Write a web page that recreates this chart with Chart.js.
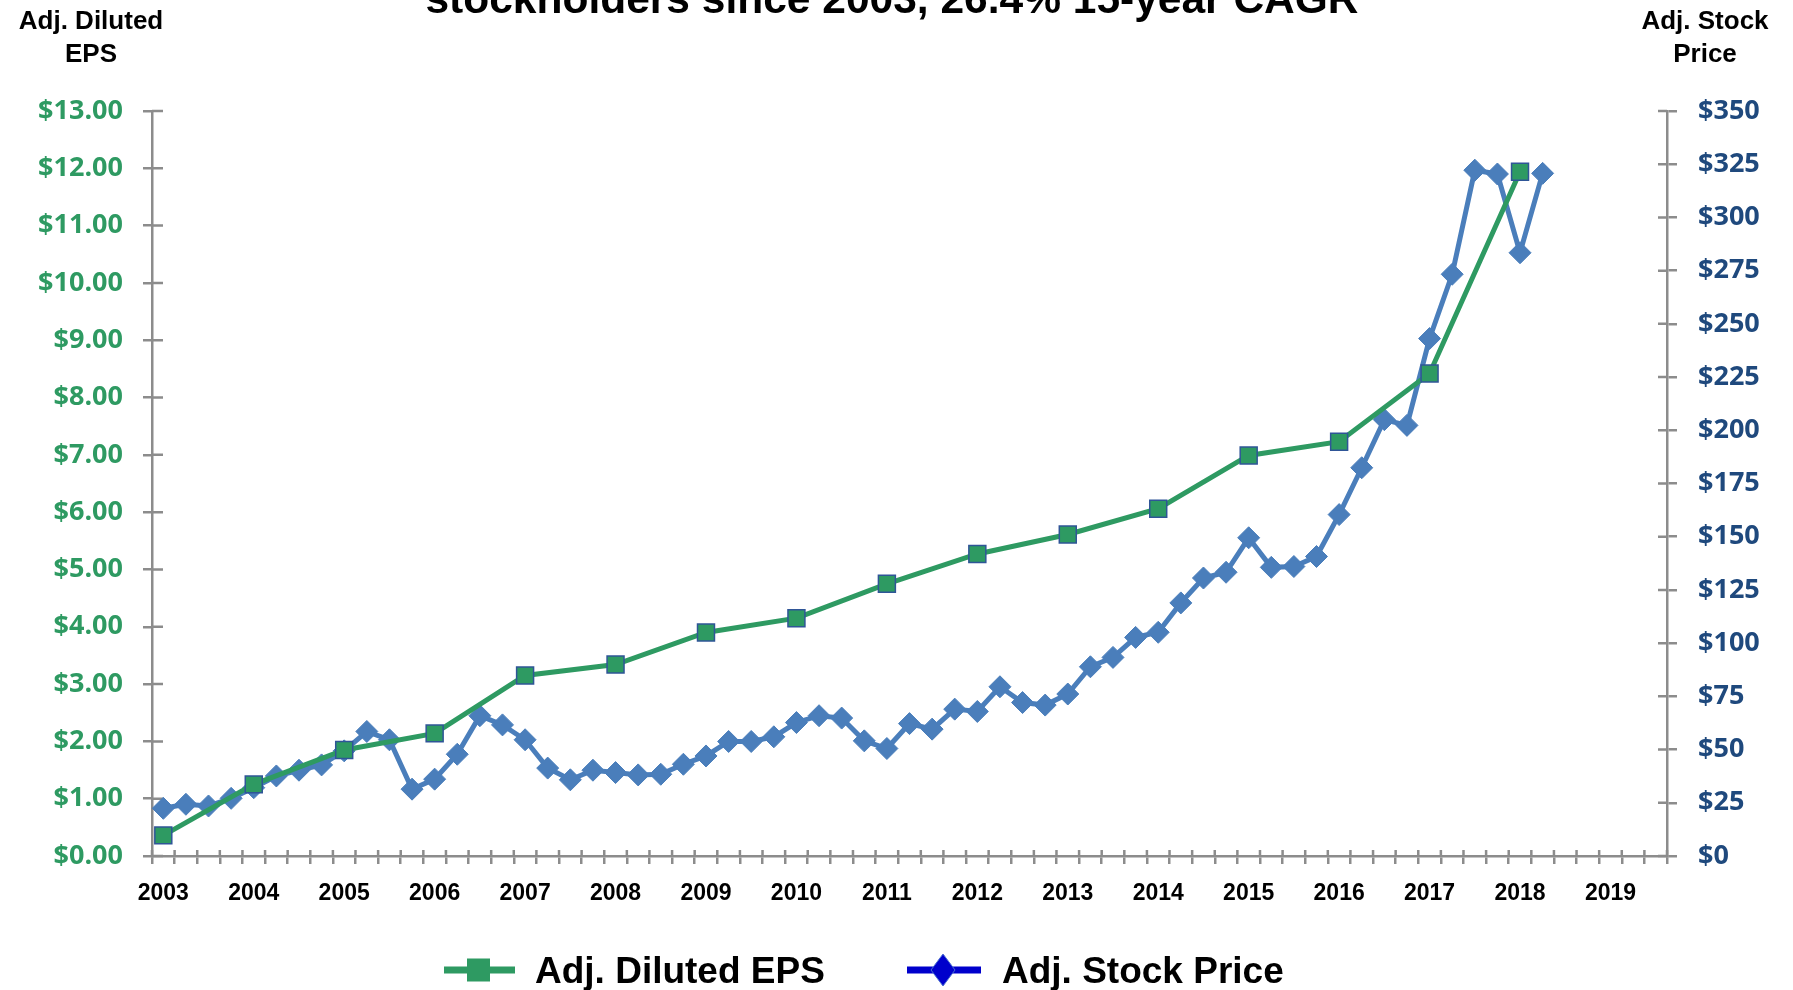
<!DOCTYPE html>
<html>
<head>
<meta charset="utf-8">
<script src="https://cdn.jsdelivr.net/npm/chart.js@4.4.1/dist/chart.umd.min.js"></script>
<style>
  html, body { margin: 0; padding: 0; background: #ffffff; }
  #wrap { width: 1793px; height: 990px; position: relative; }
</style>
</head>
<body>
<div id="wrap"><canvas id="c"></canvas></div>
<script>
// ---- Data ----
const years = ['2003','2004','2005','2006','2007','2008','2009','2010','2011','2012','2013','2014','2015','2016','2017','2018','2019'];
const quarterNames = ['Q1','Q2','Q3','Q4'];
const categoryCount = 67; // quarterly categories, 2003 Q1 .. 2019 Q3

// Adjusted diluted EPS, one value per year (2003..2018), placed at Q1 of each year
const epsValues = [0.36, 1.25, 1.85, 2.14, 3.15, 3.34, 3.90, 4.15, 4.75, 5.27, 5.61, 6.06, 6.99, 7.23, 8.42, 11.94];

// Adjusted stock price, quarterly from 2003 Q1
const priceValues = [22.4, 24.3, 23.5, 27.1, 32.1, 37.6, 40.3, 42.8, 49.4, 58.5,
                     54.6, 31.4, 36.1, 47.8, 65.9, 61.6, 54.6, 41.3, 35.8, 40.3,
                     39.2, 38.1, 38.4, 43.1, 47.0, 53.8, 53.8, 56.0, 62.7, 65.9,
                     64.8, 54.1, 50.5, 62.2, 59.6, 69.0, 67.9, 79.5, 72.1, 70.9,
                     76.1, 88.9, 93.3, 102.7, 105.1, 118.9, 130.6, 133.3, 149.5, 135.6,
                     136.0, 140.7, 160.4, 182.4, 205.0, 202.3, 243.1, 273.3, 322.2, 320.4,
                     283.4, 320.7];

const titleText = 'stockholders since 2003, 26.4% 15-year CAGR';
const leftAxisTitle = ['Adj. Diluted', 'EPS'];
const rightAxisTitle = ['Adj. Stock', 'Price'];
const legendNames = ['Adj. Diluted EPS', 'Adj. Stock Price'];

// ---- Build library tables ----
const categories = [];
for (let i = 0; i < categoryCount; i++) {
  categories.push(years[Math.floor(i / 4)] + ' ' + quarterNames[i % 4]);
}
const epsSeries = categories.map((c, i) => (i % 4 === 0 && epsValues[i / 4] !== undefined) ? epsValues[i / 4] : null);
const priceSeries = categories.map((c, i) => priceValues[i] !== undefined ? priceValues[i] : null);

// ---- Styles ----
const GREEN = '#2E9A62';
const GREEN_TXT = '#2E9A62';
const BLUE_LINE = '#4A7EBB';
const BLUE_TXT = '#1F497D';
const AXIS = '#8C8C8C';
const SANS = '"Liberation Sans", Arial, sans-serif';
const TICKFONT = '"Open Sans", "DejaVu Sans", sans-serif';

const decorPlugin = {
  id: 'decor',
  beforeDatasetsDraw(chart) {
    const ctx = chart.ctx;
    const x = chart.scales.x, y = chart.scales.y, y1 = chart.scales.y1;
    ctx.save();
    ctx.strokeStyle = AXIS;
    ctx.lineWidth = 2.5;
    ctx.beginPath();
    y.ticks.forEach((t, i) => {
      const py = y.getPixelForTick(i);
      ctx.moveTo(y.right, py); ctx.lineTo(y.right + 11, py);
    });
    y1.ticks.forEach((t, i) => {
      const py = y1.getPixelForTick(i);
      ctx.moveTo(y1.left - 9, py); ctx.lineTo(y1.left, py);
    });
    const step = x.getPixelForValue(1) - x.getPixelForValue(0);
    for (let i = 0; i <= categories.length; i++) {
      const px = x.getPixelForValue(i) - step / 2;
      ctx.moveTo(px, x.top - 6); ctx.lineTo(px, x.top);
    }
    ctx.stroke();
    ctx.restore();
  },
  afterDraw(chart) {
    const ctx = chart.ctx;
    ctx.save();
    // Title (cut at the top edge)
    ctx.fillStyle = '#000';
    ctx.font = 'bold 100px ' + SANS;
    const w100 = ctx.measureText(titleText).width;
    const tSize = 100 * 933 / w100;
    ctx.font = 'bold ' + tSize.toFixed(1) + 'px ' + SANS;
    ctx.textAlign = 'center';
    ctx.textBaseline = 'alphabetic';
    ctx.fillText(titleText, 892, 13);

    // Axis titles
    ctx.font = 'bold 26px ' + SANS;
    ctx.fillText(leftAxisTitle[0], 91, 29);
    ctx.fillText(leftAxisTitle[1], 91, 62);
    ctx.fillText(rightAxisTitle[0], 1705, 29);
    ctx.fillText(rightAxisTitle[1], 1705, 62);

    // Legend
    const ly = 970;
    ctx.lineWidth = 7;
    ctx.strokeStyle = GREEN;
    ctx.beginPath(); ctx.moveTo(444, ly); ctx.lineTo(515, ly); ctx.stroke();
    ctx.fillStyle = GREEN;
    ctx.fillRect(467, ly - 11.5, 23, 23);
    ctx.strokeStyle = '#0000CC';
    ctx.beginPath(); ctx.moveTo(907, ly); ctx.lineTo(981, ly); ctx.stroke();
    ctx.fillStyle = '#0000CC';
    ctx.beginPath();
    ctx.moveTo(943, ly - 16); ctx.lineTo(955, ly); ctx.lineTo(943, ly + 16); ctx.lineTo(931, ly);
    ctx.closePath(); ctx.fill();
    ctx.strokeStyle = '#4A6FD0'; ctx.lineWidth = 1; ctx.stroke();
    ctx.fillStyle = '#000';
    ctx.textAlign = 'left';
    ctx.font = 'bold 37px ' + SANS;
    ctx.fillText(legendNames[0], 535, 983);
    ctx.fillText(legendNames[1], 1002, 983);
    ctx.restore();
  }
};

function build() {
  new Chart(document.getElementById('c'), {
    type: 'line',
    data: {
      labels: categories,
      datasets: [
        {
          label: legendNames[0],
          data: epsSeries,
          yAxisID: 'y',
          spanGaps: true,
          borderColor: GREEN,
          borderWidth: 5,
          pointStyle: 'rect',
          pointRadius: 12,
          pointHoverRadius: 12,
          pointBackgroundColor: GREEN,
          pointBorderColor: '#2F5597',
          pointBorderWidth: 1.5,
          tension: 0
        },
        {
          label: legendNames[1],
          data: priceSeries,
          yAxisID: 'y1',
          spanGaps: false,
          borderColor: BLUE_LINE,
          borderWidth: 5,
          pointStyle: 'rectRot',
          pointRadius: 11,
          pointHoverRadius: 11,
          pointBackgroundColor: BLUE_LINE,
          pointBorderColor: BLUE_LINE,
          pointBorderWidth: 1,
          tension: 0
        }
      ]
    },
    options: {
      responsive: true,
      maintainAspectRatio: false,
      animation: false,
      events: [],
      layout: { padding: { top: 111, left: 0, right: 0, bottom: 0 } },
      plugins: { legend: { display: false }, title: { display: false }, tooltip: { enabled: false } },
      scales: {
        x: {
          type: 'category',
          offset: true,
          grid: { offset: true, drawOnChartArea: false, drawTicks: true, tickLength: 8, color: AXIS, lineWidth: 2.5 },
          border: { display: true, color: AXIS, width: 2.5 },
          ticks: {
            autoSkip: false, maxRotation: 0, minRotation: 0, padding: 16,
            color: '#000',
            font: { family: SANS, size: 23, weight: 'bold' },
            callback: (v, i) => (i % 4 === 0 ? years[i / 4] : '')
          },
          afterFit: (s) => { s.height = 134; }
        },
        y: {
          position: 'left',
          min: 0, max: 13,
          grid: { drawOnChartArea: false, drawTicks: true, tickLength: 9, color: AXIS, lineWidth: 2.5 },
          border: { display: true, color: AXIS, width: 2.5 },
          ticks: {
            stepSize: 1, padding: 20, color: GREEN_TXT,
            font: { family: TICKFONT, size: 27, weight: 'bold' },
            callback: (v) => '$' + Number(v).toFixed(2)
          },
          afterFit: (s) => { s.width = 152; }
        },
        y1: {
          position: 'right',
          min: 0, max: 350,
          grid: { drawOnChartArea: false, drawTicks: true, tickLength: 10, color: AXIS, lineWidth: 2.5 },
          border: { display: true, color: AXIS, width: 2.5 },
          ticks: {
            stepSize: 25, padding: 21, color: BLUE_TXT,
            font: { family: TICKFONT, size: 27, weight: 'bold' },
            callback: (v) => '$' + v
          },
          afterFit: (s) => { s.width = 126; }
        }
      }
    },
    plugins: [decorPlugin]
  });
}

const fontLoads = [
  document.fonts.load('bold 27px "Open Sans"'),
  document.fonts.load('bold 22px "Liberation Sans"')
];
Promise.all(fontLoads).then(build, build);
</script>
</body>
</html>
